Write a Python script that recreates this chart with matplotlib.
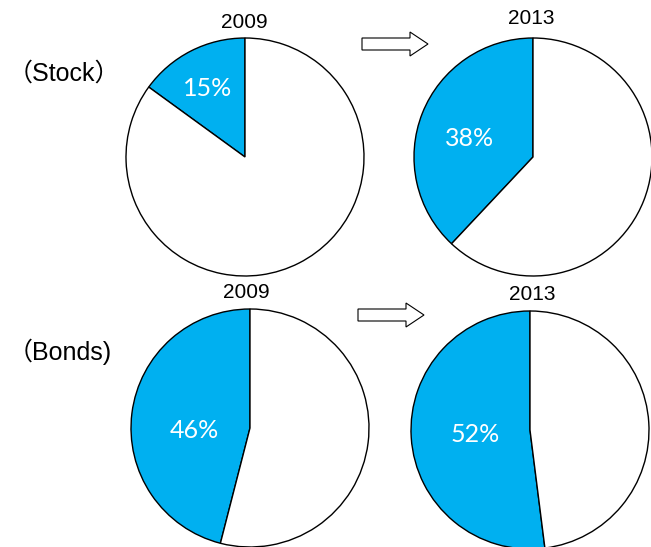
import matplotlib.pyplot as plt
from matplotlib.patches import FancyArrow

# share held in each asset class (percent)
years = ["2009", "2013"]
stock_share = [15, 38]
bond_share = [46, 52]
row_labels = ["（Stock）", "（Bonds)"]

blue = "#00B0F0"

fig = plt.figure(figsize=(6.51, 5.47), dpi=100)
ax = fig.add_axes([0, 0, 1, 1])
ax.set_xlim(0, 651)
ax.set_ylim(0, 547)
ax.set_aspect("equal")
ax.axis("off")

H = 547
# pie centres (x, y from top), radius
centres = [[(245, 157), (533, 157)], [(250, 428), (530, 430)]]
radius = 119
year_pos = [[(244, 22), (531, 19)], [(246, 292), (532, 295)]]
label_pos = [[(208, 88), (470, 138)], [(194, 430), (475, 434)]]
arrow_pos = [(362, 44), (358, 315)]
row_pos = [(8, 74), (8, 352)]

for r, shares in enumerate([stock_share, bond_share]):
    for c, s in enumerate(shares):
        cx, cy = centres[r][c]
        ax.pie([s, 100 - s], colors=[blue, "white"], startangle=90,
               counterclock=True, center=(cx, H - cy), radius=radius,
               wedgeprops=dict(edgecolor="black", linewidth=1.0),
               frame=True)
        lx, ly = label_pos[r][c]
        ax.text(lx, H - ly, "%d%%" % s, color="white", fontsize=18,
                family="Lato", ha="center", va="center")
        yx, yy = year_pos[r][c]
        ax.text(yx, H - yy, years[c], fontsize=15, family="Liberation Sans",
                ha="center", va="center")
    ax.text(row_pos[r][0], H - row_pos[r][1], row_labels[r], fontsize=18,
            family=["Liberation Sans", "Noto Sans CJK JP"],
            ha="left", va="center")
    axx, axy = arrow_pos[r]
    ax.add_patch(FancyArrow(axx, H - axy, 66, 0, width=12, head_width=24,
                            head_length=18, length_includes_head=True,
                            facecolor="white", edgecolor="black", linewidth=0.8))

ax.set_xlim(0, 651)
ax.set_ylim(0, 547)
ax.axis("off")
fig.savefig("out.png", dpi=100)
